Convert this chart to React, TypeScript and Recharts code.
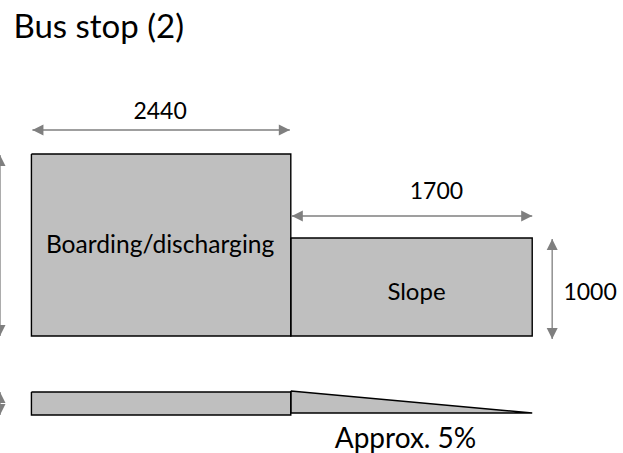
import React from "react";
import { ComposedChart, Area, Line, Scatter, XAxis, YAxis } from "recharts";

// Schematic drawing, not to scale, so everything is in drawing units
const WIDTH = 623;
const HEIGHT = 453;

const GREY = "#7f7f7f";
const FILL = "#bfbfbf";
const FONT = "Lato, 'Open Sans', sans-serif";

// Plan view
const boardingPlan = [
  { x: 30, range: [154, 336] },
  { x: 290, range: [154, 336] },
];
const slopePlan = [
  { x: 290, range: [238, 336] },
  { x: 532, range: [238, 336] },
];

// Side view
const boardingSide = [
  { x: 30, range: [392, 415] },
  { x: 290, range: [392, 415] },
];
const slopeSide = [
  { x: 290, range: [391, 413] },
  { x: 532, range: [413, 413] },
];

// Dimension arrows
const dimensionArrows = [
  [{ x: 31, y: 130 }, { x: 289, y: 130 }],
  [{ x: 291, y: 216 }, { x: 532, y: 216 }],
  [{ x: 552, y: 239 }, { x: 552, y: 339 }],
  [{ x: -1.5, y: 155 }, { x: -1.5, y: 336 }],
  [{ x: -1.5, y: 392 }, { x: -1.5, y: 415 }],
];

const labels = [
  { x: 12, y: 38, text: "Bus stop (2)", size: 33, anchor: "start" },
  { x: 159, y: 119, text: "2440", size: 23, anchor: "middle" },
  { x: 436, y: 199, text: "1700", size: 23, anchor: "middle" },
  { x: 590, y: 300, text: "1000", size: 23, anchor: "middle" },
  { x: 159, y: 253, text: "Boarding/discharging", size: 24.6, anchor: "middle" },
  { x: 416, y: 300, text: "Slope", size: 24, anchor: "middle" },
  { x: 405, y: 448, text: "Approx. 5%", size: 28, anchor: "middle" },
];

type RangePoint = { x: number; range: number[] };
type Point = { x: number; y: number };

// Walk round the shape so the outline also gets its sides
const outline = (shape: RangePoint[]): Point[] => [
  ...shape.map((p) => ({ x: p.x, y: p.range[0] })),
  ...[...shape].reverse().map((p) => ({ x: p.x, y: p.range[1] })),
  { x: shape[0].x, y: shape[0].range[0] },
];

const arrowHead = (points: Point[]) => (props: any) => {
  const { cx, cy, index } = props;
  const other = points[index === 0 ? 1 : 0];
  const self = points[index];
  const angle = (Math.atan2(self.y - other.y, self.x - other.x) * 180) / Math.PI;
  return (
    <polygon
      key={`head-${index}`}
      points="0,0 -11,-5.5 -11,5.5"
      fill={GREY}
      transform={`translate(${cx} ${cy}) rotate(${angle})`}
    />
  );
};

const LabelText = (props: any) => {
  const { cx, cy, payload } = props;
  return (
    <text
      x={cx}
      y={cy}
      fontSize={payload.size}
      fontFamily={FONT}
      textAnchor={payload.anchor}
      fill="#000000"
    >
      {payload.text}
    </text>
  );
};

const shapes = [boardingPlan, slopePlan, boardingSide, slopeSide];

const App = () => {
  return (
    <div style={{ position: "absolute", left: 0, top: 0, width: WIDTH, height: HEIGHT }}>
      <ComposedChart
        width={WIDTH}
        height={HEIGHT}
        margin={{ top: 0, right: 0, bottom: 0, left: 0 }}
      >
        <XAxis type="number" dataKey="x" domain={[0, WIDTH]} hide />
        <YAxis type="number" domain={[0, HEIGHT]} reversed hide />
        {shapes.map((shape, i) => (
          <Area
            key={`fill-${i}`}
            data={shape}
            dataKey="range"
            type="linear"
            stroke="none"
            fill={FILL}
            fillOpacity={1}
            dot={false}
            activeDot={false}
            isAnimationActive={false}
          />
        ))}
        {shapes.map((shape, i) => (
          <Line
            key={`outline-${i}`}
            data={outline(shape)}
            dataKey="y"
            type="linear"
            stroke="#000000"
            strokeWidth={1.4}
            dot={false}
            activeDot={false}
            isAnimationActive={false}
          />
        ))}
        {dimensionArrows.map((points, i) => (
          <Line
            key={`arrow-${i}`}
            data={points}
            dataKey="y"
            type="linear"
            stroke={GREY}
            strokeWidth={1.3}
            dot={arrowHead(points)}
            activeDot={false}
            isAnimationActive={false}
          />
        ))}
        <Scatter
          data={labels}
          dataKey="y"
          shape={LabelText}
          isAnimationActive={false}
        />
      </ComposedChart>
    </div>
  );
};

export default App;
